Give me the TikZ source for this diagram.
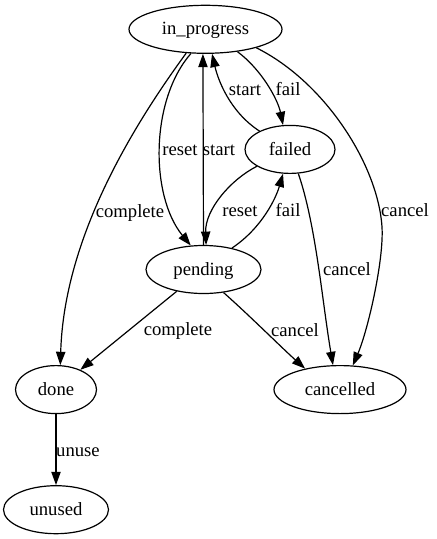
\documentclass[tikz,border=0pt]{standalone}
\usepackage{fontspec}
\setmainfont{Liberation Serif}
\usetikzlibrary{arrows.meta,shapes.geometric}
\tikzset{
  gvfont/.style={font=\fontsize{14pt}{16.8pt}\selectfont, text height=11.5pt, text depth=3pt},
  state/.style={ellipse, draw, line width=0.9pt, inner sep=0pt, minimum height=36pt, gvfont},
  lbl/.style={inner sep=0pt, gvfont},
  edge/.style={draw, line width=0.9pt, -{Triangle[length=10pt,width=7pt]}},
}
\begin{document}
\begin{tikzpicture}[x=0.75pt,y=-0.75pt]
\fill[white] (0,0) rectangle (436,539);
\useasboundingbox (0,0) rectangle (436,539);
% states
\node[state, minimum width=114.75pt] (ip) at (205.5,29.3) {in\_progress};
\node[state, minimum width=67.5pt]   (fd) at (290,149.4) {failed};
\node[state, minimum width=86.25pt]  (pd) at (203.5,269.5) {pending};
\node[state, minimum width=60.75pt]  (dn) at (56,389.6) {done};
\node[state, minimum width=99pt]     (cn) at (340,389.6) {cancelled};
\node[state, minimum width=78.75pt]  (un) at (56,509.7) {unused};
\coordinate (c8) at (382,227);
% transitions
\draw[edge] (ip.-129) .. controls (130,130) and (64,240) .. (dn.80);
\draw[edge] (ip.-121) .. controls (150,100) and (150,196) .. (pd.118);
\draw[edge] (pd.north) -- (ip.-96);
\draw[edge] (fd.149) .. controls (230,112) and (218,80) .. (ip.-75);
\draw[edge] (ip.-35) .. controls (262,70) and (278,100) .. (fd.106);
\draw[edge] (fd.-153) .. controls (230,180) and (205,210) .. (pd.84);
\draw[edge] (pd.37) .. controls (262,228) and (276,198) .. (fd.-106);
\draw[edge] (ip.-20) .. controls (325,82) and (378,165) .. (c8) .. controls (384,260) and (368,330) .. (cn.62);
\draw[edge] (fd.-71) .. controls (316,225) and (322,300) .. (cn.106);
\draw[edge] (pd) -- (dn);
\draw[edge] (pd.-49) .. controls (250,316) and (282,348) .. (cn.149);
\draw[edge] (dn) -- (un);
% labels
\node[lbl] (l1) at (130,212) {complete};
\node[lbl] (l2) at (180,150) {reset};
\node[lbl] (l3) at (219,150) {start};
\node[lbl] (l4) at (245,90) {start};
\node[lbl] (l5) at (288,90) {fail};
\node[lbl] (l6) at (240,211) {reset};
\node[lbl] (l7) at (288,211) {fail};
\node[lbl] (l8) at (405,211) {cancel};
\node[lbl] (l9) at (347,270) {cancel};
\node[lbl] (l10) at (178,330) {complete};
\node[lbl] (l11) at (295,331) {cancel};
\node[lbl] (l12) at (78,451) {unuse};
\end{tikzpicture}
\end{document}
